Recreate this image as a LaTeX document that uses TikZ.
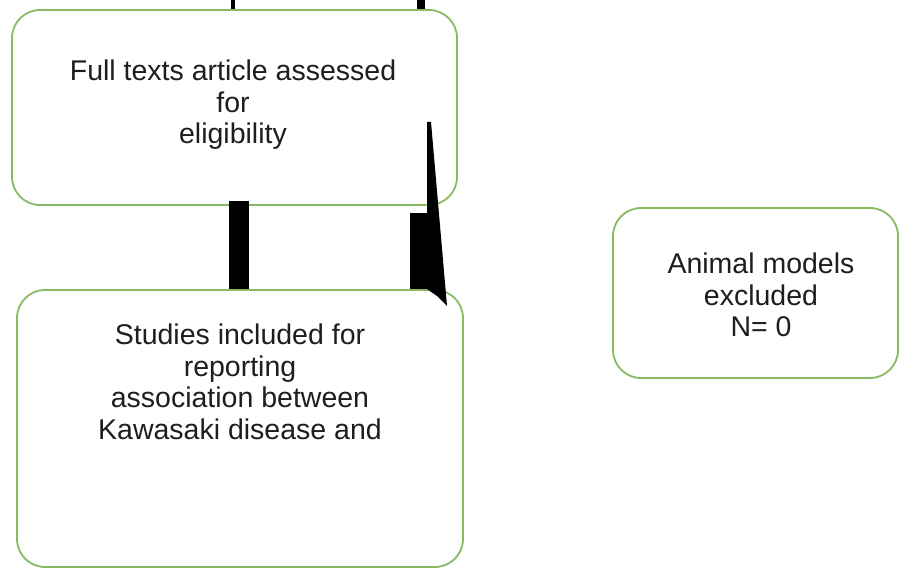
\documentclass[tikz,border=0pt]{standalone}
\usepackage{fontspec}
\setmainfont{Liberation Sans}
\usetikzlibrary{positioning}
\definecolor{boxgreen}{RGB}{137,186,98}
\definecolor{inkgray}{RGB}{30,30,30}
\tikzset{
  panel/.style={draw=boxgreen, line width=1.8pt, rounded corners=28pt, fill=white, inner sep=0pt},
  boxtext/.style={align=center, font=\fontsize{28.5}{31.5}\selectfont, text=inkgray, inner sep=0pt, anchor=base},
  bar/.style={line width=20pt, line cap=butt}
}
\begin{document}
\begin{tikzpicture}[x=1pt, y=1pt]
  \useasboundingbox (0,0) rectangle (899,568);
  % ---- boxes ----
  \node[panel, minimum width=445, minimum height=195] (full) at (234.5,460.5) {};
  \node[panel, minimum width=285, minimum height=170] (animal) at (755.5,275) {};
  \node[panel, minimum width=446, minimum height=277] (incl) at (240,139.5) {};
  % ---- box texts (anchored at the last line) ----
  \node[boxtext] (fulltxt) at (233,424) {Full texts article assessed\\for\\eligibility};
  \node[boxtext] (animaltxt) at (761,231) {Animal models\\excluded\\N= 0};
  \node[boxtext] (incltxt) at (240,129) {Studies included for\\reporting\\association between\\Kawasaki disease and};
  % ---- connectors ----
  \coordinate (in1) at (233,568);
  \coordinate (in2) at (421,568);
  \draw[line width=4pt] (in1) -- ([xshift=-1.5]full.north);
  \draw[line width=8pt] (in2) -- ([xshift=186.5]full.north);
  \draw[bar] ([xshift=4.5, yshift=5]full.south) -- ([xshift=-1]incl.north);
  \draw[bar] ([xshift=185.5, yshift=-7]full.south) -- ([xshift=180]incl.north);
  \fill (427,446) -- (431,446) -- (447,262) -- (437,272) -- (427,279) -- cycle;
\end{tikzpicture}
\end{document}
